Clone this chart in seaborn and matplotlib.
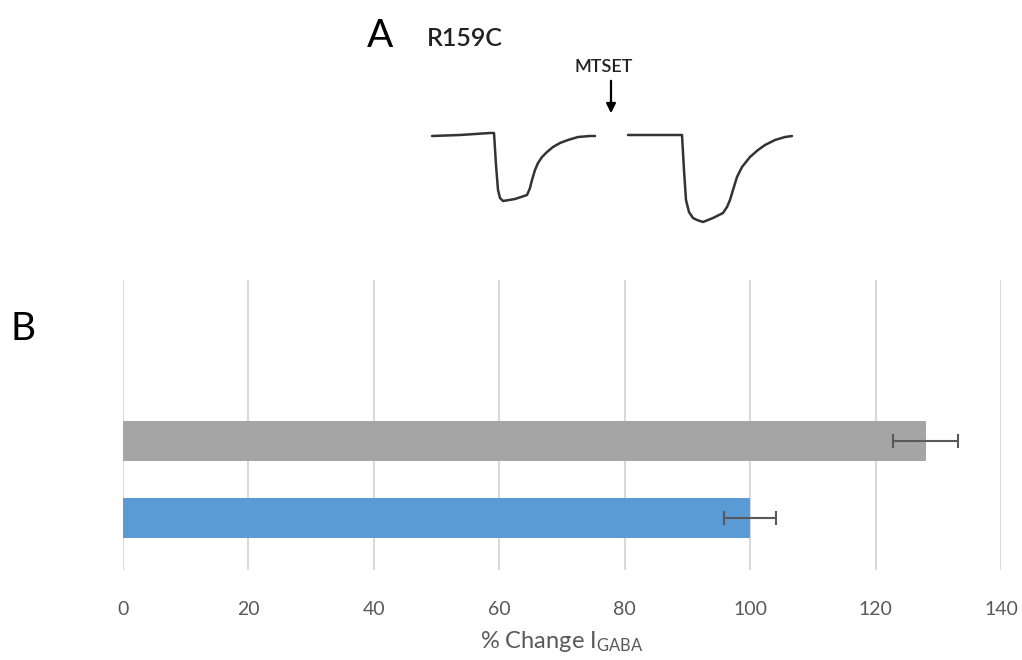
import seaborn as sns
import matplotlib.pyplot as plt
import pandas as pd

# panel B data
conditions = ["R159C + MTSET", "R159C"]
pct_change = [128, 100]
pct_err = [5.2, 4.2]
bar_colors = ["#a5a5a5", "#5b9bd5"]
x_ticks = [0, 20, 40, 60, 80, 100, 120, 140]

# panel A traces (arbitrary units)
before_t = [432, 460, 490, 494, 496, 498, 500, 503, 515, 527, 530, 532, 535,
            538, 542, 547, 553, 560, 568, 578, 590, 595]
before_i = [136, 135, 133, 133, 165, 190, 198, 201, 199, 195, 188, 180, 170,
            163, 157, 152, 147, 143, 140, 137, 136, 136]
after_t = [628, 660, 682, 684, 686, 689, 693, 697, 703, 713, 723, 727, 730,
           733, 737, 742, 750, 758, 765, 775, 785, 792]
after_i = [135, 135, 135, 170, 200, 212, 218, 220, 222, 218, 213, 207, 200,
           190, 177, 167, 157, 150, 145, 140, 137, 136]

sns.set_theme(style="white")
plt.rcParams["font.family"] = ["Lato", "DejaVu Sans"]
plt.rcParams["mathtext.default"] = "regular"

fig = plt.figure(figsize=(10.22, 6.6), dpi=100)

# ---- panel B: bar chart
ax = fig.add_axes([123 / 1022, 1 - 570 / 660, 878 / 1022, 290 / 660])
df = pd.DataFrame({"condition": conditions, "pct": pct_change})
sns.barplot(data=df, x="pct", y="condition", hue="condition", palette=bar_colors,
            orient="h", width=0.51, errorbar=None, legend=False, saturation=1,
            linewidth=0, ax=ax)
ax.errorbar(pct_change, range(len(conditions)), xerr=pct_err, fmt="none",
            ecolor="#595959", elinewidth=1.5, capsize=5, capthick=1.5)
ax.set_xlim(0, 140)
ax.set_ylim(1.675, -2.09)
ax.set_xticks(x_ticks)
ax.set_xticklabels([str(t) for t in x_ticks], fontsize=14, color="#595959")
ax.tick_params(axis="x", length=0, pad=22)
ax.set_yticks([])
ax.set_ylabel("")
ax.set_xlabel("% Change I$_{GABA}$", fontsize=17, color="#595959", labelpad=8)
ax.grid(axis="x", color="#d9d9d9", linewidth=1.5)
ax.set_axisbelow(True)
sns.despine(ax=ax, left=True, bottom=True)
fig.text(10 / 1022, 1 - 340 / 660, "B", fontsize=28, color="black")

# ---- panel A: current traces
ax_a = fig.add_axes([350 / 1022, 1 - 240 / 660, 460 / 1022, 240 / 660])
sns.lineplot(x=before_t, y=before_i, color="#333333", linewidth=1.8, ax=ax_a, sort=False)
sns.lineplot(x=after_t, y=after_i, color="#333333", linewidth=1.8, ax=ax_a, sort=False)
ax_a.set_xlim(350, 810)
ax_a.set_ylim(240, 0)
ax_a.axis("off")
ax_a.text(367, 47, "A", fontsize=28, color="black")
ax_a.text(427, 46, "R159C", fontsize=18, color="#222222", fontweight="semibold")
ax_a.annotate("", xy=(611, 116), xytext=(611, 78),
              arrowprops=dict(arrowstyle="-|>", color="black", lw=1.6, mutation_scale=14))
ax_a.text(604, 72, "MTSET", fontsize=13, color="#222222", ha="center",
          fontweight="semibold")

fig.savefig("out.png", dpi=100)
